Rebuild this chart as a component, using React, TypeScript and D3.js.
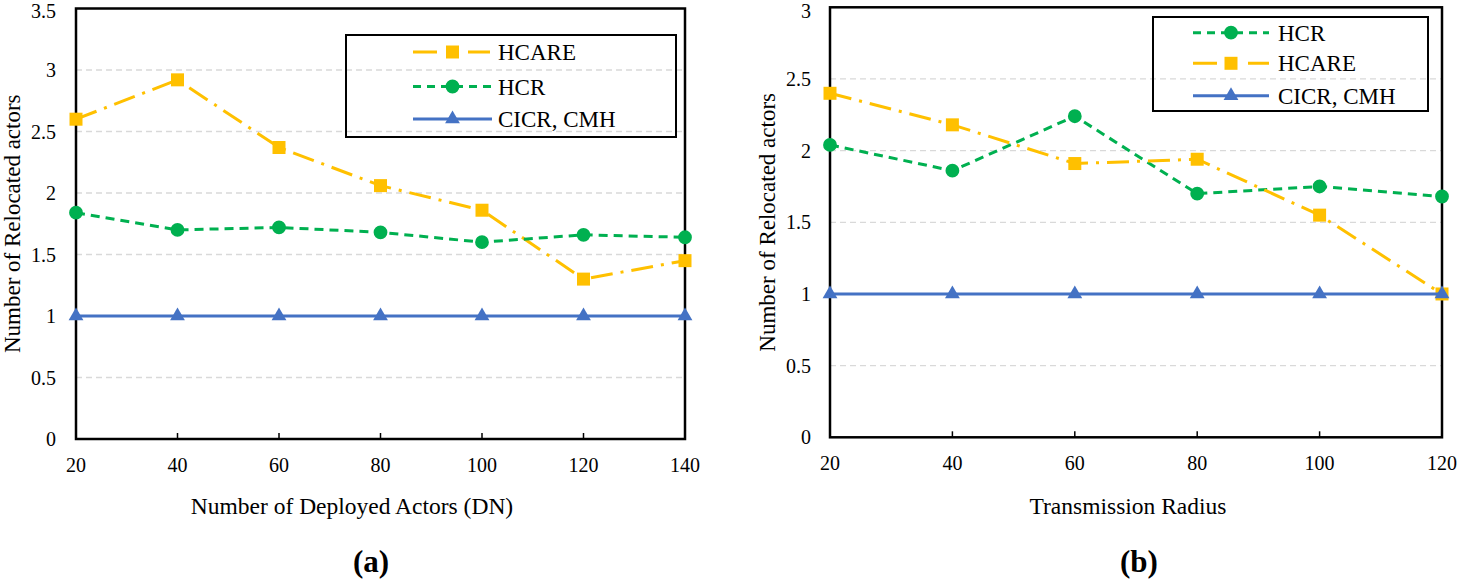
import React from 'react';
import * as d3 from 'd3';

// Panel (a)
const xValsA = [20, 40, 60, 80, 100, 120, 140];
const hcareA = [2.6, 2.92, 2.37, 2.06, 1.86, 1.3, 1.45];
const hcrA = [1.84, 1.7, 1.72, 1.68, 1.6, 1.66, 1.64];
const cicrA = [1, 1, 1, 1, 1, 1, 1];
const yTicksA = [0, 0.5, 1, 1.5, 2, 2.5, 3, 3.5];

// Panel (b)
const xValsB = [20, 40, 60, 80, 100, 120];
const hcrB = [2.04, 1.86, 2.24, 1.7, 1.75, 1.68];
const hcareB = [2.4, 2.18, 1.91, 1.94, 1.55, 1.0];
const cicrB = [1, 1, 1, 1, 1, 1];
const yTicksB = [0, 0.5, 1, 1.5, 2, 2.5, 3];

const FONT = 'Liberation Serif, Times New Roman, Times, DejaVu Serif, serif';

const STYLES: Record<string, { color: string; dash: string; legendDash: string; shape: any; size: number }> = {
  HCARE: { color: '#FFC000', dash: '22 8 3 8', legendDash: '24 31 22', shape: d3.symbolSquare, size: 169 },
  HCR: { color: '#00B050', dash: '9 6', legendDash: '8 6', shape: d3.symbolCircle, size: 150 },
  'CICR, CMH': { color: '#4472C4', dash: '', legendDash: '', shape: d3.symbolTriangle, size: 95 },
};

type Series = { name: string; values: number[] };

type PanelProps = {
  x0: number; x1: number; y0: number; y1: number;
  xs: number[]; yMax: number; yTicks: number[];
  series: Series[];
  legend: { x0: number; x1: number; y0: number; y1: number; rowY: number[]; lineX0: number; lineX1: number; textX: number };
  xTitle: string; xTitleX: number; label: string; labelX: number; yTitleX: number; tickLabelX: number;
};

function Panel(p: PanelProps) {
  const x = d3.scaleLinear().domain([p.xs[0], p.xs[p.xs.length - 1]]).range([p.x0, p.x1]);
  const y = d3.scaleLinear().domain([0, p.yMax]).range([p.y1, p.y0]);
  const line = d3.line<number>();
  const cy = (p.y0 + p.y1) / 2;
  return (
    <g>
      {p.yTicks.filter(t => t > 0 && t < p.yMax).map(t => (
        <line key={'g' + t} x1={p.x0} x2={p.x1} y1={y(t)} y2={y(t)} stroke="#D9D9D9" strokeWidth={1.3} strokeDasharray="6 4" />
      ))}
      {p.yTicks.map(t => (
        <text key={'yt' + t} x={p.tickLabelX} y={Math.max(y(t), 10.5)} dy="0.35em" textAnchor="end" fontFamily={FONT} fontSize={20} fill="#000">{String(t)}</text>
      ))}
      {p.xs.map(v => (
        <g key={'xt' + v}>
          <line x1={x(v)} x2={x(v)} y1={p.y1} y2={p.y1 - 6} stroke="#000" strokeWidth={1.5} />
          <text x={x(v)} y={p.y1 + 26} dy="0.35em" textAnchor="middle" fontFamily={FONT} fontSize={20} fill="#000">{String(v)}</text>
        </g>
      ))}
      <rect x={p.x0} y={p.y0} width={p.x1 - p.x0} height={p.y1 - p.y0} fill="none" stroke="#000" strokeWidth={2.5} />
      {p.series.map(s => {
        const st = STYLES[s.name];
        const pts = s.values.map((v, i) => [x(p.xs[i]), y(v)] as [number, number]);
        return (
          <g key={s.name}>
            <path d={line(pts as any) || ''} fill="none" stroke={st.color} strokeWidth={3} strokeDasharray={st.dash || undefined} />
            {pts.map((pt, i) => (
              <path key={i} transform={`translate(${pt[0]},${pt[1]})`} d={d3.symbol().type(st.shape).size(st.size)() || ''} fill={st.color} />
            ))}
          </g>
        );
      })}
      <rect x={p.legend.x0} y={p.legend.y0} width={p.legend.x1 - p.legend.x0} height={p.legend.y1 - p.legend.y0} fill="none" stroke="#000" strokeWidth={2} />
      {p.series.map((s, i) => {
        const name = s.name;
        const st = STYLES[name];
        const ly = p.legend.rowY[i];
        const mx = (p.legend.lineX0 + p.legend.lineX1) / 2;
        return (
          <g key={'lg' + name}>
            <line x1={p.legend.lineX0} x2={p.legend.lineX1} y1={ly} y2={ly} stroke={st.color} strokeWidth={3} strokeDasharray={st.legendDash || undefined} />
            <path transform={`translate(${mx},${ly})`} d={d3.symbol().type(st.shape).size(st.size)() || ''} fill={st.color} />
            <text x={p.legend.textX} y={ly} dy="0.35em" fontFamily={FONT} fontSize={23} fill="#000">{name}</text>
          </g>
        );
      })}
      <text transform={`translate(${p.yTitleX},${cy}) rotate(-90)`} textAnchor="middle" dy="0.35em" fontFamily={FONT} fontSize={23} fill="#000">Number of Relocated actors</text>
      <text x={p.xTitleX} y={506} dy="0.35em" textAnchor="middle" fontFamily={FONT} fontSize={23.5} fill="#000">{p.xTitle}</text>
      <text x={p.labelX} y={561} dy="0.35em" textAnchor="middle" fontFamily={FONT} fontSize={31} fontWeight="bold" fill="#000">{p.label}</text>
    </g>
  );
}

export default function App() {
  return (
    <svg width={1458} height={579} style={{ position: 'absolute', left: 0, top: 0, background: '#fff' }}>
      <rect width={1458} height={579} fill="#fff" />
      <Panel
        x0={76} x1={685} y0={8.5} y1={439}
        xs={xValsA} yMax={3.5} yTicks={yTicksA}
        series={[{ name: 'HCARE', values: hcareA }, { name: 'HCR', values: hcrA }, { name: 'CICR, CMH', values: cicrA }]}
        legend={{ x0: 346, x1: 676, y0: 35, y1: 137, rowY: [52, 86.5, 119], lineX0: 413, lineX1: 492, textX: 498 }}
        xTitle="Number of Deployed Actors (DN)" xTitleX={352} label="(a)" labelX={371} yTitleX={12} tickLabelX={56}
      />
      <Panel
        x0={830} x1={1442} y0={7.3} y1={437.3}
        xs={xValsB} yMax={3} yTicks={yTicksB}
        series={[{ name: 'HCR', values: hcrB }, { name: 'HCARE', values: hcareB }, { name: 'CICR, CMH', values: cicrB }]}
        legend={{ x0: 1153, x1: 1428, y0: 17, y1: 111, rowY: [32.7, 63.3, 95.7], lineX0: 1193, lineX1: 1269, textX: 1278 }}
        xTitle="Transmission Radius" xTitleX={1128} label="(b)" labelX={1139} yTitleX={767} tickLabelX={811}
      />
    </svg>
  );
}
